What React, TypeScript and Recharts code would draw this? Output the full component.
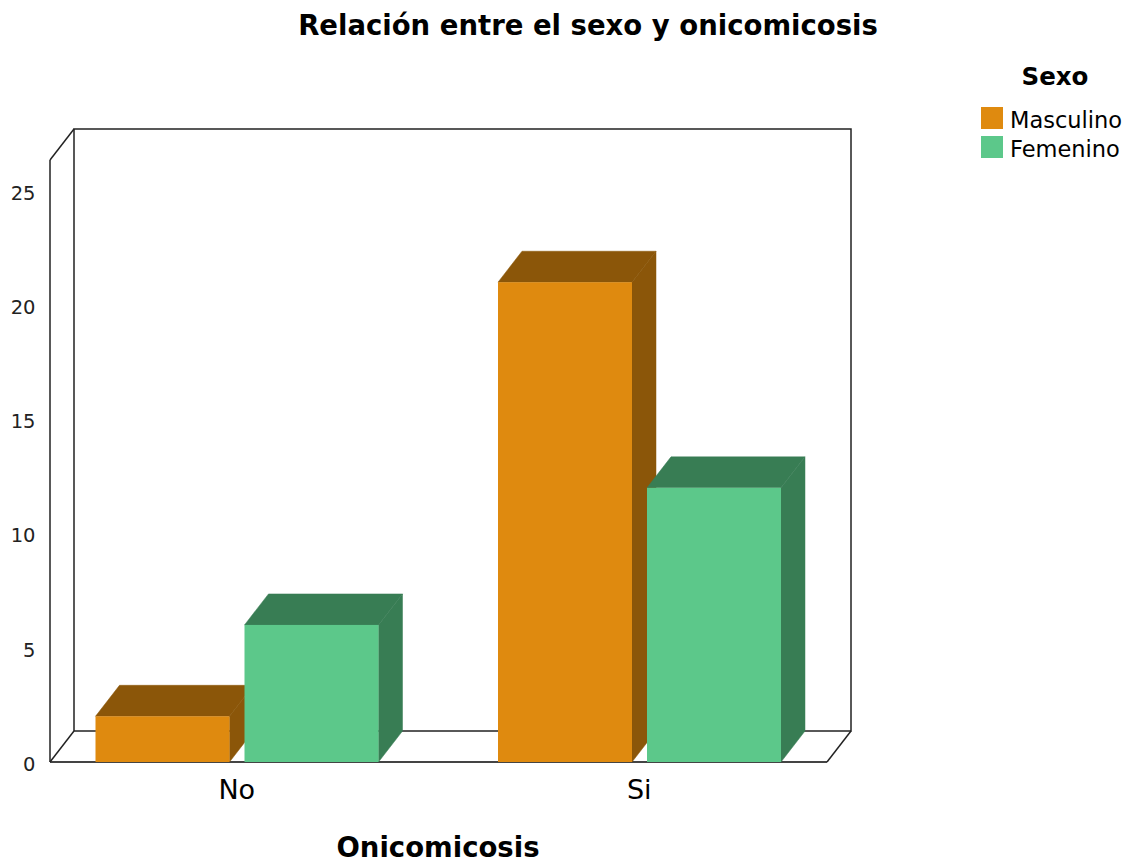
import { BarChart, Bar, XAxis, YAxis } from 'recharts'

// Onicomicosis (No / Si) split by sex
const categories = ['No', 'Si']
const masculino = [2, 21]
const femenino = [6, 12]
const yTicks = [0, 5, 10, 15, 20, 25]
const yMax = 26.35

const series = [
  { key: 'Masculino', front: '#DF8A0F', dark: '#8B5609' },
  { key: 'Femenino', front: '#5CC88A', dark: '#387D54' },
]

const FONT = '"DejaVu Sans", sans-serif'

// layout
const W = 1122
const H = 856
const M = { top: 152, right: 289.5, bottom: 0, left: 0 }
const Y_AXIS_W = 27.5
const X_AXIS_H = 102
const DX = 24
const DY = -31

const plotLeft = M.left + Y_AXIS_W
const plotRight = W - M.right
const plotTop = M.top
const plotBottom = H - M.bottom - X_AXIS_H

const data = categories.map((name, i) => ({
  name,
  Masculino: masculino[i],
  Femenino: femenino[i],
}))

const make3DBar = (front: string, dark: string) => (props: any) => {
  const { x, y, width, height } = props
  if (width == null || height == null) return <g />
  const r = x + width
  const b = y + height
  return (
    <g>
      <polygon
        points={`${x},${y} ${x + DX},${y + DY} ${r + DX},${y + DY} ${r},${y}`}
        fill={dark}
        stroke={dark}
        strokeWidth={0.5}
      />
      <polygon
        points={`${r},${y} ${r + DX},${y + DY} ${r + DX},${b + DY} ${r},${b}`}
        fill={dark}
        stroke={dark}
        strokeWidth={0.5}
      />
      <rect x={x} y={y} width={width} height={height} fill={front} />
    </g>
  )
}

// box walls drawn behind the bars
const Frame = () => {
  const L = plotLeft + 14.5
  const R = plotRight - 13.5
  const T = plotTop
  const B = plotBottom
  return (
    <g fill="none" stroke="#222" strokeWidth={1.5}>
      <rect x={L + DX} y={T + DY} width={R - L} height={B - T} />
      <line x1={L} y1={T} x2={L} y2={B} />
      <line x1={L} y1={T} x2={L + DX} y2={T + DY} />
      <line x1={L} y1={B} x2={R} y2={B} stroke="#444" strokeWidth={2} />
      <line x1={L} y1={B} x2={L + DX} y2={B + DY} />
      <line x1={R} y1={B} x2={R + DX} y2={B + DY} />
    </g>
  )
}

const SexLegend = () => (
  <g fontFamily={FONT} fill="#000">
    <text x={1047} y={77} textAnchor="middle" fontWeight="bold" fontSize={24.5}>
      Sexo
    </text>
    {series.map((s, i) => (
      <g key={s.key}>
        <rect x={973} y={99 + i * 29} width={22} height={22} fill={s.front} />
        <text x={1002} y={120 + i * 29} fontSize={22.5}>
          {s.key}
        </text>
      </g>
    ))}
  </g>
)

export default function App() {
  return (
    <div style={{ width: W, height: H, fontFamily: FONT }}>
      <BarChart width={W} height={H} data={data} margin={M} barSize={134} barGap={15}>
        <Frame />
        <text x={580} y={27} textAnchor="middle" fontFamily={FONT} fontWeight="bold" fontSize={27.5} fill="#000">
          Relación entre el sexo y onicomicosis
        </text>
        <text
          x={(plotLeft + plotRight) / 2}
          y={849}
          textAnchor="middle"
          fontFamily={FONT}
          fontWeight="bold"
          fontSize={27.5}
          fill="#000"
        >
          Onicomicosis
        </text>
        <SexLegend />
        <XAxis
          dataKey="name"
          height={X_AXIS_H}
          axisLine={false}
          tickLine={false}
          tickSize={0}
          tickMargin={18}
          interval={0}
          tick={{ fontSize: 27, fill: '#000', fontFamily: FONT }}
        />
        <YAxis
          domain={[0, yMax]}
          ticks={yTicks}
          width={Y_AXIS_W}
          axisLine={false}
          tickLine={false}
          tickSize={0}
          tickMargin={0}
          tick={{ fontSize: 19.5, fill: '#222', fontFamily: FONT, dy: 2 }}
        />
        {series.map((s) => (
          <Bar
            key={s.key}
            dataKey={s.key}
            fill={s.front}
            shape={make3DBar(s.front, s.dark)}
            isAnimationActive={false}
          />
        ))}
      </BarChart>
    </div>
  )
}
